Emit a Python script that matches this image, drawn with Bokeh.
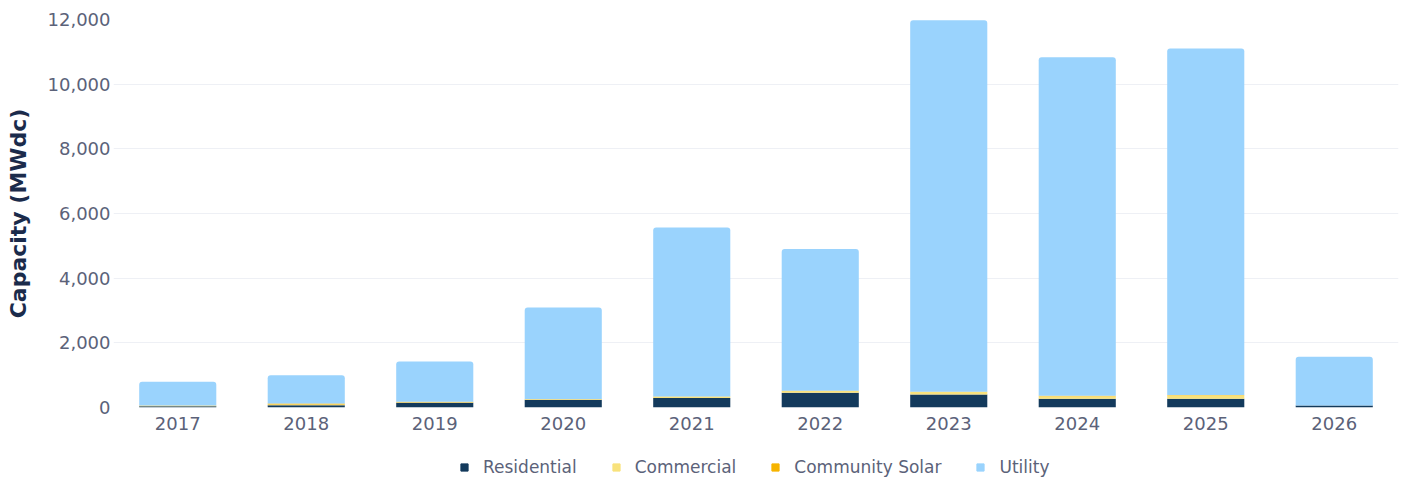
from bokeh.plotting import figure
from bokeh.layouts import column
from bokeh.models import ColumnDataSource, Range1d, FixedTicker, NumeralTickFormatter, Legend, LegendItem
from bokeh.embed import file_html
from bokeh.resources import INLINE

years = ["2017", "2018", "2019", "2020", "2021", "2022", "2023", "2024", "2025", "2026"]
residential = [40, 70, 150, 240, 290, 460, 400, 270, 270, 60]
commercial = [15, 20, 15, 20, 40, 50, 80, 80, 110, 5]
community_solar = [10, 30, 10, 5, 10, 10, 10, 10, 10, 0]
utility = [735, 880, 1245, 2825, 5230, 4380, 11490, 10470, 10710, 1505]
y_ticks = [0, 2000, 4000, 6000, 8000, 10000, 12000]

series = ["residential", "commercial", "community_solar", "utility"]
labels = ["Residential", "Commercial", "Community Solar", "Utility"]
colors = ["#133a5c", "#f8e27c", "#f6b400", "#9ad3fd"]

source = ColumnDataSource(dict(years=years, residential=residential, commercial=commercial,
                               community_solar=community_solar, utility=utility))

FONT = "DejaVu Sans"
TICK_COLOR = "#5b6279"

p = figure(x_range=years, y_range=Range1d(0, 12000), width=1403, height=440,
           output_backend="svg", toolbar_location=None,
           min_border_left=113, min_border_right=5, min_border_top=19, min_border_bottom=33)

renderers = p.vbar_stack(series, x="years", width=0.6, source=source,
                         color=colors, line_color=None)
renderers[-1].glyph.border_radius = (3, 3, 0, 0)

p.outline_line_color = None
p.xgrid.grid_line_color = None
p.ygrid.grid_line_color = "#eef0f5"
p.ygrid.grid_line_width = 1

p.yaxis.ticker = FixedTicker(ticks=y_ticks)
p.yaxis.formatter = NumeralTickFormatter(format="0,0")
p.yaxis.axis_line_color = None
p.yaxis.major_tick_line_color = None
p.yaxis.minor_tick_line_color = None
p.yaxis.major_tick_out = 0
p.yaxis.minor_tick_out = 0
p.yaxis.major_label_standoff = 3
p.yaxis.major_label_text_font = FONT
p.yaxis.major_label_text_font_size = "18px"
p.yaxis.major_label_text_color = TICK_COLOR
p.yaxis.axis_label = "Capacity (MWdc)"
p.yaxis.axis_label_text_font = FONT
p.yaxis.axis_label_text_font_style = "bold"
p.yaxis.axis_label_text_font_size = "22px"
p.yaxis.axis_label_text_color = "#1b2b4b"
p.yaxis.axis_label_standoff = 14

p.xaxis.axis_line_color = None
p.xaxis.major_tick_line_color = None
p.xaxis.minor_tick_line_color = None
p.xaxis.major_tick_out = 0
p.xaxis.minor_tick_out = 0
p.xaxis.major_label_standoff = 9
p.xaxis.major_label_text_font = FONT
p.xaxis.major_label_text_font_size = "18px"
p.xaxis.major_label_text_color = TICK_COLOR

# legend strip below the chart (hidden proxy renderers share the chart's data)
lg = figure(width=1403, height=38, x_range=years, y_range=Range1d(0, 1),
            output_backend="svg", toolbar_location=None,
            x_axis_type=None, y_axis_type=None,
            min_border_left=0, min_border_right=0, min_border_top=0, min_border_bottom=0)
lg.outline_line_color = None
lg.xgrid.grid_line_color = None
lg.ygrid.grid_line_color = None

items = []
for s, lab, col in zip(series, labels, colors):
    r = lg.scatter(x="years", y=s, source=source, marker="square", color=col, visible=False)
    items.append(LegendItem(label=lab, renderers=[r]))

legend = Legend(items=items, orientation="horizontal", location=(342, 1))
legend.label_text_font = FONT
legend.label_text_font_size = "17px"
legend.label_text_color = TICK_COLOR
legend.glyph_width = 18
legend.glyph_height = 20
legend.label_standoff = 10
legend.spacing = 30
legend.padding = 0
legend.margin = 0
legend.border_line_color = None
legend.background_fill_alpha = 0
legend.inactive_fill_alpha = 0
legend.click_policy = "none"
lg.add_layout(legend, "center")

layout = column(p, lg, spacing=0)
open("out.html", "w").write(file_html(layout, INLINE))
